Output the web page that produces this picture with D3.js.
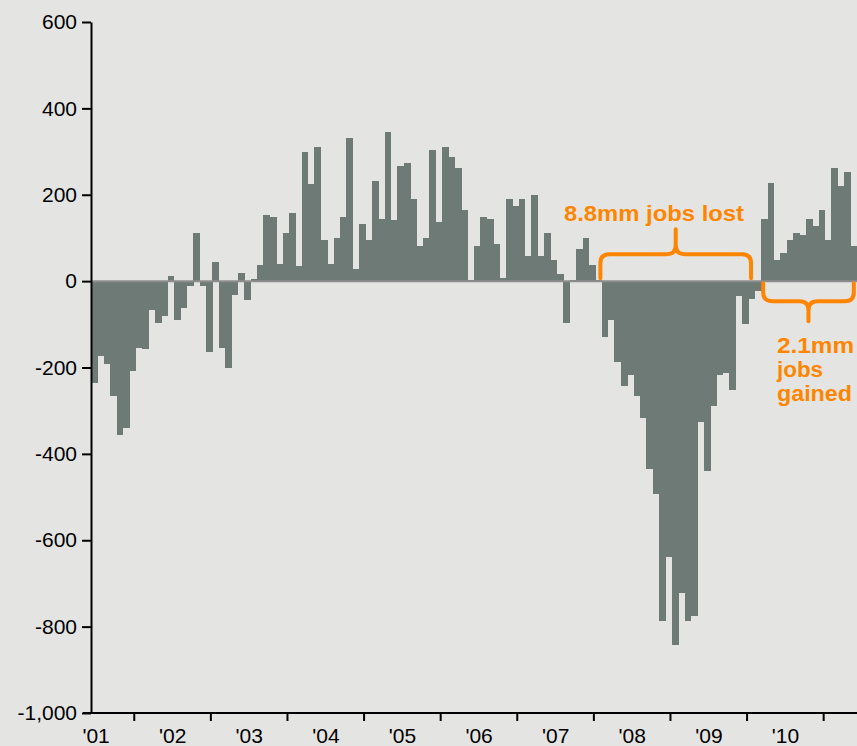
<!DOCTYPE html>
<html>
<head>
<meta charset="utf-8">
<script src="https://cdn.jsdelivr.net/npm/d3@7"></script>
<style>
  html, body { margin: 0; padding: 0; background: #E4E5E3; }
  svg { display: block; }
</style>
</head>
<body>
<svg id="chart" width="857" height="746"></svg>
<script>
// ---- data (monthly change, thousands; Jan 2001 .. Dec 2010) ----
const yearLabels = ["'01","'02","'03","'04","'05","'06","'07","'08","'09","'10"];
const yTicks = [-1000, -800, -600, -400, -200, 0, 200, 400, 600];
const values2001 = [-237,-174,-193,-267,-357,-341,-209,-154,-158,-68,-96,-80];
const values2002 = [12,-91,-63,-12,112,-12,-163,45,-154,-200,-33,19];
const values2003 = [-43,5,38,153,149,40,112,158,34,300,225,311];
const values2004 = [96,40,100,149,332,29,133,96,232,144,346,142];
const values2005 = [267,274,191,82,100,304,137,311,288,263,165,3];
const values2006 = [82,149,144,86,8,191,175,191,59,200,59,112];
const values2007 = [49,17,-96,3,75,100,38,3,-130,-90,-188,-242];
const values2008 = [-217,-267,-316,-435,-492,-788,-638,-842,-721,-788,-775,-326];
const values2009 = [-439,-288,-217,-212,-251,-34,-100,-42,-22,144,228,49];
const values2010 = [66,96,112,107,144,128,165,96,263,221,253,82];
const monthly = [].concat(values2001, values2002, values2003, values2004, values2005,
                          values2006, values2007, values2008, values2009, values2010);
const lostLabel = "8.8mm jobs lost";
const gainedLabel = ["2.1mm", "jobs", "gained"];
const gainedWidths = [77, 46, 75];
const lostSpan = [79.8, 103.4];    // month positions covered by the brace
const gainedSpan = [105.3, 119.5];

// ---- layout ----
const svg = d3.select("#chart");
const plotL = 91, plotR = 857, plotT = 22, plotB = 713;
const orange = "#FF8500";
const barColor = "#6E7A76";

const x = d3.scaleBand().domain(d3.range(monthly.length)).range([plotL, plotR]).padding(0);
const xm = d3.scaleLinear().domain([0, monthly.length]).range([plotL, plotR]);
const y = d3.scaleLinear().domain([-1000, 600]).range([plotB, plotT]);

// bars
svg.append("g").selectAll("rect").data(monthly).join("rect")
  .attr("x", (d, i) => x(i))
  .attr("width", x.bandwidth() + 0.4)
  .attr("y", d => y(Math.max(0, d)))
  .attr("height", d => Math.abs(y(d) - y(0)))
  .attr("fill", barColor)
  .attr("shape-rendering", "crispEdges");

// zero line
svg.append("line")
  .attr("x1", plotL).attr("x2", plotR)
  .attr("y1", y(0)).attr("y2", y(0))
  .attr("stroke", "#8E8E8E").attr("stroke-width", 2);

// y axis
const fmt = d => d3.format(",")(d).replace("\u2212", "-");
const yAxis = svg.append("g").attr("transform", `translate(${plotL},0)`)
  .call(d3.axisLeft(y).tickValues(yTicks).tickFormat(fmt).tickSize(9).tickPadding(5).tickSizeOuter(0));
yAxis.select(".domain").attr("stroke", "#000").attr("stroke-width", 2);
yAxis.selectAll(".tick line").attr("stroke", "#000").attr("stroke-width", 2);
yAxis.selectAll(".tick text")
  .attr("font-family", "Liberation Sans, Arial, sans-serif")
  .attr("font-size", 21).attr("fill", "#000");

// x axis
const tickPos = yearLabels.map((_, k) => k * 12 + 6.7);
const xAxis = svg.append("g").attr("transform", `translate(0,${plotB})`)
  .call(d3.axisBottom(xm).tickValues(tickPos).tickFormat("").tickSize(8).tickSizeOuter(0));
xAxis.select(".domain").remove();
xAxis.selectAll(".tick line").attr("stroke", "#000").attr("stroke-width", 2);
svg.append("line")
  .attr("x1", plotL - 8).attr("x2", plotR)
  .attr("y1", plotB).attr("y2", plotB)
  .attr("stroke", "#000").attr("stroke-width", 2);
svg.append("g").selectAll("text").data(yearLabels).join("text")
  .attr("x", (d, k) => xm(k * 12 + 0.8))
  .attr("y", 743)
  .attr("text-anchor", "middle")
  .attr("font-family", "Liberation Sans, Arial, sans-serif")
  .attr("font-size", 21).attr("fill", "#000")
  .text(d => d);

// braces
function braceUp(x0, x1, yBase, yH, yTip) {
  const xc = (x0 + x1) / 2, r = 9;
  return `M${x0},${yBase} L${x0},${yH + r} Q${x0},${yH} ${x0 + r},${yH}` +
         ` L${xc - r},${yH} Q${xc},${yH} ${xc},${yH - r} L${xc},${yTip}` +
         ` M${xc},${yH - r} Q${xc},${yH} ${xc + r},${yH}` +
         ` L${x1 - r},${yH} Q${x1},${yH} ${x1},${yH + r} L${x1},${yBase}`;
}
function braceDown(x0, x1, yBase, yH, yTip) {
  const xc = (x0 + x1) / 2, r = 9;
  return `M${x0},${yBase} L${x0},${yH - r} Q${x0},${yH} ${x0 + r},${yH}` +
         ` L${xc - r},${yH} Q${xc},${yH} ${xc},${yH + r} L${xc},${yTip}` +
         ` M${xc},${yH + r} Q${xc},${yH} ${xc + r},${yH}` +
         ` L${x1 - r},${yH} Q${x1},${yH} ${x1},${yH - r} L${x1},${yBase}`;
}
const z = y(0);
svg.append("path")
  .attr("d", braceUp(xm(lostSpan[0]), xm(lostSpan[1]), z - 3, z - 27, z - 52))
  .attr("fill", "none").attr("stroke", orange).attr("stroke-width", 4)
  .attr("stroke-linecap", "round");
svg.append("path")
  .attr("d", braceDown(xm(gainedSpan[0]), xm(gainedSpan[1]), z + 2, z + 20, z + 40))
  .attr("fill", "none").attr("stroke", orange).attr("stroke-width", 4)
  .attr("stroke-linecap", "round");

// annotation texts
svg.append("text")
  .attr("x", 654).attr("y", 221)
  .attr("text-anchor", "middle")
  .attr("font-family", "Liberation Sans, Arial, sans-serif")
  .attr("font-weight", "bold").attr("font-size", 22)
  .attr("fill", orange)
  .attr("textLength", 180).attr("lengthAdjust", "spacingAndGlyphs")
  .text(lostLabel);
svg.append("g").selectAll("text").data(gainedLabel).join("text")
  .attr("x", 777)
  .attr("y", (d, i) => 353 + i * 24)
  .attr("font-family", "Liberation Sans, Arial, sans-serif")
  .attr("font-weight", "bold").attr("font-size", 22)
  .attr("fill", orange)
  .attr("textLength", (d, i) => gainedWidths[i]).attr("lengthAdjust", "spacingAndGlyphs")
  .text(d => d);
</script>
</body>
</html>
